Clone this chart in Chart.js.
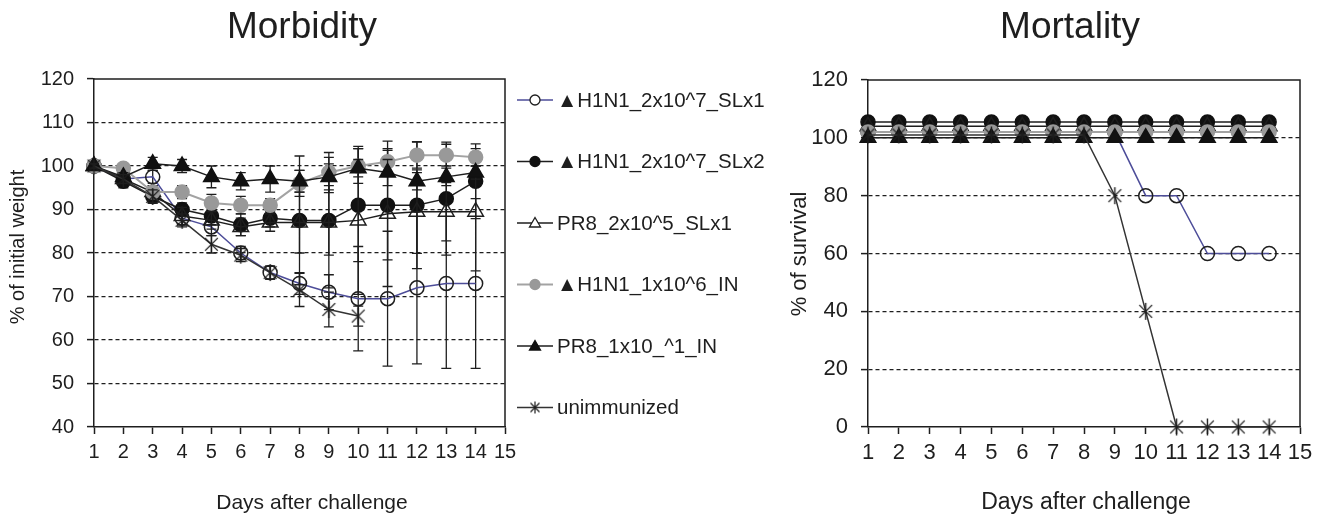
<!DOCTYPE html>
<html lang="en">
<head>
<meta charset="UTF-8"/>
<title>Morbidity / Mortality</title>
<style>
    html, body {
        margin: 0;
        padding: 0;
        width: 1325px;
        height: 517px;
        background: #fff;
        overflow: hidden;
    }
    .pane {
        position: absolute;
        top: 0;
        height: 517px;
    }
    #leftPane { left: 0; width: 785px; }
    #rightPane { left: 785px; width: 540px; }
</style>
<script src="https://cdn.jsdelivr.net/npm/chart.js@4/dist/chart.umd.min.js"></script>
</head>
<body>
<div class="pane" id="leftPane"><canvas id="morb"></canvas></div>
<div class="pane" id="rightPane"><canvas id="mort"></canvas></div>

<script>
    // Data
    const days = [1, 2, 3, 4, 5, 6, 7, 8, 9, 10, 11, 12, 13, 14];
    const unimmDays = [1, 2, 3, 4, 5, 6, 7, 8, 9, 10];
    const seriesNames = [
        '\u25B2H1N1_2x10^7_SLx1',
        '\u25B2H1N1_2x10^7_SLx2',
        'PR8_2x10^5_SLx1',
        '\u25B2H1N1_1x10^6_IN',
        'PR8_1x10_^1_IN',
        'unimmunized'
    ];

    // Morbidity: % of initial weight (mean and error)
    const wtSLx1 = [100, 97, 97.5, 88, 86, 80, 75.5, 73, 71, 69.5, 69.5, 72, 73, 73];
    const errSLx1 = [0.5, 1, 1.5, 1.5, 2, 1.5, 1.5, 2.5, 4, 12, 15.5, 17.5, 19.5, 19.5];
    const wtSLx2 = [100, 96.5, 93, 90, 88.5, 86.5, 88, 87.5, 87.5, 91, 91, 91, 92.5, 96.5];
    const errSLx2 = [0.5, 1.5, 1.5, 1.5, 2, 2.5, 2, 14.8, 8, 13, 12.6, 14.6, 13, 8.6];
    const wtPR8SL = [100, 97, 94, 88.5, 87.5, 86, 87, 87, 87, 87.5, 89, 89.5, 89.5, 89.5];
    const errPR8SL = [0.5, 1, 1.5, 2, 2, 2, 2, 7, 15, 17, 16.7, 9.6, 6.7, 13.6];
    const wtIN = [100, 99.5, 94, 94, 91.5, 91, 91, 96, 98.5, 100, 101, 102.5, 102.5, 102];
    const errIN = [0.5, 1, 1.5, 1.5, 2, 2, 1.5, 3, 4.6, 4, 3, 3, 2.5, 2];
    const wtPR8IN = [100, 97.5, 100.5, 100, 97.5, 96.5, 97, 96.5, 97.5, 99.5, 98.5, 96.5, 97.5, 98.5];
    const errPR8IN = [0.5, 1, 1.5, 1.5, 2.5, 2, 3, 2.5, 3, 2, 3, 2, 2, 1.5];
    const wtUnimm = [100, 97, 93, 87.5, 82, 79.5, 75.5, 71.5, 67, 65.5];
    const errUnimm = [0.5, 1, 1.5, 1.5, 2, 1.5, 1.5, 3.8, 4, 2.3];

    // Mortality: % of survival (rows offset in the original so they stay visible)
    const survSLx1 = [102, 102, 102, 102, 102, 102, 102, 102, 102, 80, 80, 60, 60, 60];
    const survSLx2 = [105.5, 105.5, 105.5, 105.5, 105.5, 105.5, 105.5, 105.5, 105.5, 105.5, 105.5, 105.5, 105.5, 105.5];
    const survPR8SL = [104, 104, 104, 104, 104, 104, 104, 104, 104, 104, 104, 104, 104, 104];
    const survIN = [102, 102, 102, 102, 102, 102, 102, 102, 102, 102, 102, 102, 102, 102];
    const survPR8IN = [100, 100, 100, 100, 100, 100, 100, 100, 100, 100, 100, 100, 100, 100];
    const survUnimm = [101, 101, 101, 101, 101, 101, 101, 101, 80, 40, 0, 0, 0, 0];

    // Axis ranges
    const dayRange = [1, 15];
    const weightRange = [40, 120, 10];
    const survRange = [0, 120, 20];

    const FONT = "'Liberation Sans', Arial, Helvetica, sans-serif";
    const INK = '#1e1e1e';
    Chart.defaults.font.family = FONT;
    Chart.defaults.color = INK;

    // asterisk marker (Excel "star")
    function makeStar(size, lw) {
        const c = document.createElement('canvas');
        c.width = c.height = size;
        const g = c.getContext('2d');
        const m = size / 2, r = size / 2 - 1, d = r * 0.75;
        g.strokeStyle = INK;
        g.lineWidth = lw;
        g.beginPath();
        g.moveTo(m, m - r); g.lineTo(m, m + r);
        g.moveTo(m - d, m - d); g.lineTo(m + d, m + d);
        g.moveTo(m + d, m - d); g.lineTo(m - d, m + d);
        g.stroke();
        return c;
    }
    const starBig = makeStar(19, 1.4);
    const starSmall = makeStar(14, 1.2);

    const styles = [
        {line: '#4d4d99', width: 1.5, shape: 'circle', r: 7, fill: 'rgba(0,0,0,0)', edge: INK},
        {line: INK, width: 1.5, shape: 'circle', r: 7, fill: '#111', edge: '#111'},
        {line: INK, width: 1.5, shape: 'triangle', r: 9, fill: 'rgba(0,0,0,0)', edge: INK},
        {line: '#a3a3a3', width: 2, shape: 'circle', r: 7, fill: '#999', edge: '#999'},
        {line: INK, width: 1.5, shape: 'triangle', r: 9, fill: '#111', edge: '#111'},
        {line: '#333', width: 1.5, shape: starBig, r: 9, fill: INK, edge: INK}
    ];

    function makeSet(i, xs, ys, errs) {
        const s = styles[i];
        return {
            label: seriesNames[i],
            data: xs.map((d, k) => ({x: d, y: ys[k]})),
            errors: errs,
            order: -i,
            clip: false,
            tension: 0,
            borderColor: s.line,
            borderWidth: s.width,
            pointStyle: s.shape,
            pointRadius: s.r,
            pointBackgroundColor: s.fill,
            pointBorderColor: s.edge,
            pointBorderWidth: 1.5
        };
    }

    const morbSets = [
        makeSet(0, days, wtSLx1, errSLx1),
        makeSet(1, days, wtSLx2, errSLx2),
        makeSet(2, days, wtPR8SL, errPR8SL),
        makeSet(3, days, wtIN, errIN),
        makeSet(4, days, wtPR8IN, errPR8IN),
        makeSet(5, unimmDays, wtUnimm, errUnimm)
    ];
    const mortSets = [
        makeSet(0, days, survSLx1),
        makeSet(1, days, survSLx2),
        makeSet(2, days, survPR8SL),
        makeSet(3, days, survIN),
        makeSet(4, days, survPR8IN),
        makeSet(5, days, survUnimm)
    ];

    // Plugins
    const errorBars = {
        id: 'errorBars',
        beforeDatasetDraw(chart, args) {
            const ds = chart.data.datasets[args.index];
            if (!ds.errors) return;
            const y = chart.scales.y, ctx = chart.ctx;
            ctx.save();
            ctx.strokeStyle = INK;
            ctx.lineWidth = 1.3;
            ctx.beginPath();
            args.meta.data.forEach((pt, k) => {
                const v = ds.data[k].y, e = ds.errors[k];
                if (!e) return;
                const top = y.getPixelForValue(v + e), bot = y.getPixelForValue(v - e);
                ctx.moveTo(pt.x, top); ctx.lineTo(pt.x, bot);
                ctx.moveTo(pt.x - 5, top); ctx.lineTo(pt.x + 5, top);
                ctx.moveTo(pt.x - 5, bot); ctx.lineTo(pt.x + 5, bot);
            });
            ctx.stroke();
            ctx.restore();
        }
    };

    const frame = {
        id: 'frame',
        beforeDatasetsDraw(chart) {
            const {ctx, chartArea: a} = chart;
            ctx.save();
            ctx.strokeStyle = INK;
            ctx.lineWidth = 1.5;
            ctx.beginPath();
            ctx.moveTo(a.left, a.top);
            ctx.lineTo(a.right, a.top);
            ctx.lineTo(a.right, a.bottom);
            ctx.stroke();
            ctx.restore();
        }
    };

    function textPlugin(cfg) {
        return {
            id: 'texts',
            afterDraw(chart) {
                const ctx = chart.ctx;
                ctx.save();
                ctx.fillStyle = INK;
                ctx.textAlign = 'center';
                ctx.textBaseline = 'alphabetic';
                ctx.font = '37px ' + FONT;
                ctx.fillText(cfg.title, cfg.titleX, 38);

                ctx.textBaseline = 'middle';
                ctx.font = cfg.xTitleSize + 'px ' + FONT;
                ctx.fillText('Days after challenge', cfg.xTitleX, 503);

                ctx.save();
                ctx.translate(cfg.yTitleX, cfg.yTitleY);
                ctx.rotate(-Math.PI / 2);
                ctx.font = cfg.yTitleSize + 'px ' + FONT;
                ctx.fillText(cfg.yTitle, 0, 0);
                ctx.restore();

                if (cfg.legend) drawLegend(ctx);
                ctx.restore();
            }
        };
    }

    const legendY = [100, 161.5, 223, 284.5, 346, 407.5];

    function drawLegend(ctx) {
        legendY.forEach((yy, i) => {
            const s = styles[i];
            ctx.strokeStyle = s.line;
            ctx.lineWidth = s.width;
            ctx.beginPath();
            ctx.moveTo(517, yy);
            ctx.lineTo(553, yy);
            ctx.stroke();

            ctx.fillStyle = s.fill === 'rgba(0,0,0,0)' ? '#fff' : s.fill;
            ctx.strokeStyle = s.edge;
            ctx.lineWidth = 1.3;
            if (s.shape === 'circle') {
                ctx.beginPath();
                ctx.arc(535, yy, 5, 0, Math.PI * 2);
                ctx.fill();
                ctx.stroke();
            } else if (s.shape === 'triangle') {
                ctx.beginPath();
                ctx.moveTo(535, yy - 5.5);
                ctx.lineTo(540.5, yy + 4);
                ctx.lineTo(529.5, yy + 4);
                ctx.closePath();
                ctx.fill();
                ctx.stroke();
            } else {
                ctx.drawImage(starSmall, 535 - 7, yy - 7);
            }

            ctx.fillStyle = INK;
            ctx.textAlign = 'left';
            ctx.textBaseline = 'middle';
            ctx.font = '20.5px ' + FONT;
            ctx.fillText(seriesNames[i], 557, yy + 1);
        });
    }

    function gridColor(lo, hi) {
        return c => (c.tick && (c.tick.value === lo || c.tick.value === hi)) ? 'rgba(0,0,0,0)' : INK;
    }

    function axes(yr, yWidth, tickSize) {
        return {
            x: {
                type: 'linear',
                min: dayRange[0],
                max: dayRange[1],
                afterFit: s => { s.height = 90; },
                ticks: {stepSize: 1, autoSkip: false, maxRotation: 0, padding: 6, font: {size: tickSize}},
                grid: {drawOnChartArea: false, tickLength: 7, tickColor: INK, tickWidth: 1.5},
                border: {color: INK, width: 1.5}
            },
            y: {
                min: yr[0],
                max: yr[1],
                afterFit: s => { s.width = yWidth; },
                ticks: {stepSize: yr[2], padding: 13, font: {size: tickSize}},
                grid: {color: gridColor(yr[0], yr[1]), lineWidth: 1.2, tickLength: 7, tickColor: INK, tickWidth: 1.5},
                border: {color: INK, width: 1.5, dash: [4, 3]}
            }
        };
    }

    new Chart(document.getElementById('morb'), {
        type: 'line',
        data: {datasets: morbSets},
        options: {
            animation: false,
            responsive: true,
            maintainAspectRatio: false,
            layout: {padding: {top: 79, right: 785 - 505, left: 0, bottom: 0}},
            plugins: {legend: {display: false}, tooltip: {enabled: false}},
            scales: axes(weightRange, 94, 20)
        },
        plugins: [errorBars, frame, textPlugin({
            title: 'Morbidity', titleX: 302,
            xTitleX: 312, xTitleSize: 21,
            yTitle: '% of initial weight', yTitleX: 18, yTitleY: 247, yTitleSize: 20,
            legend: true
        })]
    });

    new Chart(document.getElementById('mort'), {
        type: 'line',
        data: {datasets: mortSets},
        options: {
            animation: false,
            responsive: true,
            maintainAspectRatio: false,
            layout: {padding: {top: 80, right: 540 - (1300 - 785), left: 0, bottom: 0}},
            plugins: {legend: {display: false}, tooltip: {enabled: false}},
            scales: axes(survRange, 868 - 785, 22)
        },
        plugins: [frame, textPlugin({
            title: 'Mortality', titleX: 1070 - 785,
            xTitleX: 1086 - 785, xTitleSize: 23,
            yTitle: '% of survival', yTitleX: 800 - 785, yTitleY: 254, yTitleSize: 22,
            legend: false
        })]
    });
</script>
</body>
</html>
